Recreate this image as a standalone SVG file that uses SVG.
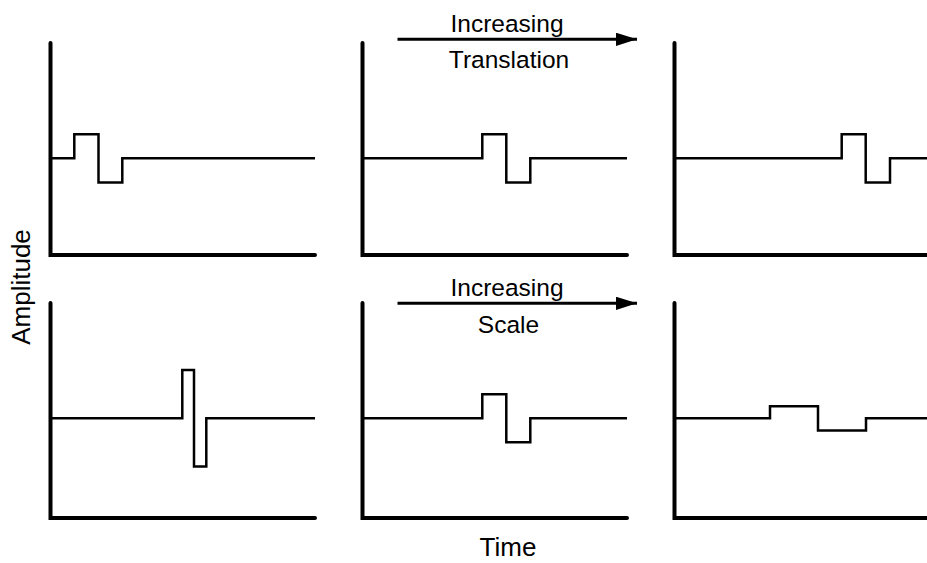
<svg xmlns="http://www.w3.org/2000/svg" width="927" height="563" viewBox="0 0 927 563">
<style>
.axis{fill:none;stroke:#000;stroke-width:4;stroke-linecap:round;stroke-linejoin:miter}
.sig{fill:none;stroke:#000;stroke-width:2.5;stroke-linejoin:miter}
.arr{fill:none;stroke:#000;stroke-width:3}
text{font-family:"Liberation Sans",Arial,sans-serif;font-size:24.5px;fill:#000}
.ax{font-size:26px}
</style>
<defs>
<marker id="ah" viewBox="0 0 10 10" refX="10" refY="5" markerWidth="7" markerHeight="4.4" markerUnits="strokeWidth" orient="auto" preserveAspectRatio="none">
<path d="M0,0 L10,5 L0,10 Z" fill="#000"/>
</marker>
</defs>
<rect width="927" height="563" fill="#fff"/>
<g id="panel-top-left">
<path class="axis" d="M50.5,43 V255 H315"/>
<path class="sig" d="M50.5,158.3 H74.3 V134.3 H98.5 V182.5 H122.3 V158.3 H315"/>
</g>
<g id="panel-top-middle">
<path class="axis" d="M362.5,43 V255 H627"/>
<path class="sig" d="M362.5,158.3 H482.3 V134.3 H506.3 V182.5 H530.3 V158.3 H627"/>
</g>
<g id="panel-top-right">
<path class="axis" d="M674.5,43 V255 H940"/>
<path class="sig" d="M674.5,158.3 H841.7 V134.3 H865.7 V182.5 H890 V158.3 H940"/>
</g>
<g id="panel-bottom-left">
<path class="axis" d="M50.5,303 V518 H315"/>
<path class="sig" d="M50.5,418.3 H182.3 V370 H194 V466.5 H206.3 V418.3 H315"/>
</g>
<g id="panel-bottom-middle">
<path class="axis" d="M362.5,303 V518 H627"/>
<path class="sig" d="M362.5,418.3 H482.3 V394.3 H506.3 V442.3 H530.3 V418.3 H627"/>
</g>
<g id="panel-bottom-right">
<path class="axis" d="M674.5,303 V518 H940"/>
<path class="sig" d="M674.5,418.3 H770 V406.3 H818 V430.5 H866 V418.3 H940"/>
</g>
<g id="connectors">
<line class="arr" x1="397.5" y1="39.3" x2="637" y2="39.3" marker-end="url(#ah)"/>
<line class="arr" x1="397.5" y1="303.3" x2="637" y2="303.3" marker-end="url(#ah)"/>
</g>
<g id="labels">
<text x="507" y="31.5" text-anchor="middle">Increasing</text>
<text x="509" y="68.3" text-anchor="middle">Translation</text>
<text x="507" y="295.5" text-anchor="middle">Increasing</text>
<text x="508.5" y="333.3" text-anchor="middle">Scale</text>
<text class="ax" x="508" y="556" text-anchor="middle">Time</text>
<text class="ax" transform="translate(30,287) rotate(-90)" text-anchor="middle">Amplitude</text>
</g>
</svg>
